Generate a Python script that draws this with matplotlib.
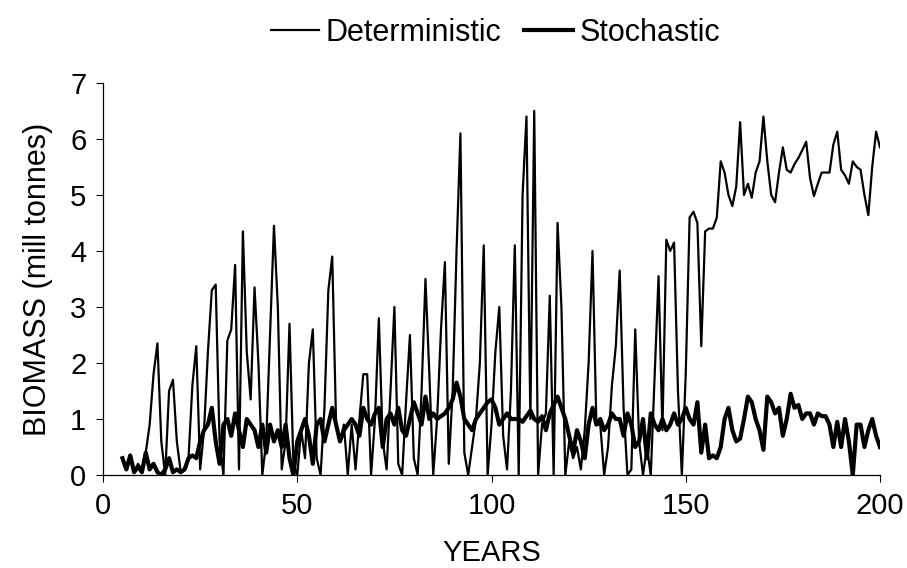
import matplotlib
matplotlib.use("Agg")
import matplotlib.pyplot as plt

plt.rcParams["font.family"] = ["Liberation Sans", "DejaVu Sans"]

years = list(range(5, 201))

# deterministic biomass (years 5..200)
deterministic = [
    0.3, 0.1, 0.3, 0.05, 0.2, 0.1, 0.4, 0.9, 1.8, 2.35,          # 5-14
    0.6, 0.0, 1.5, 1.7, 0.6, 0.05, 0.1, 0.3, 1.6, 2.3,           # 15-24
    0.1, 0.8, 2.2, 3.3, 3.4, 0.6, 0.0, 2.4, 2.6, 3.75,           # 25-34
    0.1, 4.35, 2.2, 1.35, 3.35, 2.0, 0.0, 0.6, 2.5, 4.45,        # 35-44
    3.0, 0.1, 0.6, 2.7, 0.2, 0.0, 0.8, 0.3, 2.0, 2.6,            # 45-54
    0.3, 0.0, 1.2, 3.3, 3.9, 0.9, 0.6, 0.9, 0.0, 0.9,            # 55-64
    0.1, 1.0, 1.8, 1.8, 0.0, 1.0, 2.8, 0.6, 0.1, 1.5,            # 65-74
    3.0, 0.2, 0.0, 1.3, 2.5, 0.3, 0.0, 1.5, 3.5, 1.8,            # 75-84
    0.0, 1.0, 2.6, 3.8, 0.2, 1.5, 4.0, 6.1, 0.4, 0.0,            # 85-94
    0.5, 1.0, 2.0, 4.1, 0.0, 0.9, 2.2, 3.0, 0.7, 0.1,            # 95-104
    1.5, 4.1, 0.0, 5.0, 6.4, 1.0, 6.5, 0.0, 0.9, 1.1,            # 105-114
    3.2, 0.0, 4.5, 3.0, 0.0, 0.6, 0.3, 0.5, 0.1, 0.8,            # 115-124
    2.0, 4.0, 0.9, 0.9, 0.0, 0.5, 1.6, 2.3, 3.65, 1.2,           # 125-134
    0.0, 0.1, 2.6, 0.6, 0.0, 0.5, 0.0, 1.8, 3.55, 0.8,           # 135-144
    4.2, 4.0, 4.15, 1.5, 0.0, 1.8, 4.6, 4.7, 4.5, 2.3,           # 145-154
    4.35, 4.4, 4.4, 4.6, 5.6, 5.4, 5.0, 4.8, 5.15, 6.3,          # 155-164
    5.0, 5.2, 4.95, 5.4, 5.6, 6.4, 5.6, 5.0, 4.87, 5.4,          # 165-174
    5.85, 5.45, 5.4, 5.55, 5.66, 5.8, 5.95, 5.3, 4.98, 5.2,      # 175-184
    5.4, 5.4, 5.4, 5.9, 6.13, 5.45, 5.35, 5.2, 5.6, 5.5,         # 185-194
    5.45, 5.0, 4.64, 5.5, 6.13, 5.85,                            # 195-200
]

# stochastic biomass (years 5..200)
stochastic = [
    0.3, 0.1, 0.35, 0.05, 0.15, 0.05, 0.4, 0.1, 0.2, 0.05,       # 5-14
    0.0, 0.1, 0.3, 0.05, 0.1, 0.05, 0.1, 0.3, 0.35, 0.3,         # 15-24
    0.6, 0.8, 0.9, 1.2, 0.6, 0.2, 0.9, 1.0, 0.7, 1.1,            # 25-34
    0.8, 0.5, 1.0, 0.9, 0.8, 0.5, 0.9, 0.4, 0.9, 0.6,            # 35-44
    0.8, 0.5, 0.9, 0.3, 0.0, 0.6, 0.8, 1.0, 0.7, 0.2,            # 45-54
    0.9, 1.0, 0.6, 0.9, 1.2, 0.9, 0.6, 0.8, 0.9, 1.0,            # 55-64
    0.9, 0.7, 1.2, 1.0, 0.9, 1.1, 1.2, 0.5, 1.0, 1.1,            # 65-74
    0.9, 1.2, 0.8, 0.7, 1.0, 1.3, 1.1, 0.9, 1.4, 1.0,            # 75-84
    1.1, 1.0, 1.05, 1.1, 1.2, 1.35, 1.65, 1.4, 1.0, 0.9,         # 85-94
    0.8, 1.0, 1.1, 1.2, 1.3, 1.35, 1.2, 0.9, 1.0, 1.1,           # 95-104
    1.0, 1.0, 1.0, 0.95, 1.05, 1.15, 1.0, 0.95, 1.05, 0.8,       # 105-114
    1.1, 1.25, 1.4, 1.2, 1.0, 0.7, 0.4, 0.8, 0.6, 0.3,           # 115-124
    0.9, 1.2, 0.9, 1.0, 0.8, 0.9, 1.1, 1.0, 1.0, 0.7,            # 125-134
    1.1, 0.9, 0.5, 0.6, 1.0, 0.3, 1.1, 0.9, 0.8, 1.0,            # 135-144
    0.8, 0.9, 1.1, 0.9, 1.0, 1.2, 1.0, 0.9, 1.3, 0.4,            # 145-154
    0.9, 0.3, 0.35, 0.3, 0.5, 1.0, 1.2, 0.8, 0.6, 0.65,          # 155-164
    1.0, 1.4, 1.3, 1.0, 0.8, 0.45, 1.4, 1.3, 1.1, 1.2,           # 165-174
    0.7, 1.0, 1.45, 1.2, 1.25, 1.0, 1.1, 1.1, 0.9, 1.1,          # 175-184
    1.05, 1.05, 0.9, 0.5, 0.95, 0.5, 1.0, 0.6, 0.0, 0.9,         # 185-194
    0.9, 0.5, 0.8, 1.0, 0.7, 0.5,                                # 195-200
]

x_ticks = [0, 50, 100, 150, 200]
y_ticks = [0, 1, 2, 3, 4, 5, 6, 7]

fig = plt.figure(figsize=(9.07, 5.68), dpi=100)
ax = fig.add_axes([0.1136, 0.1637, 0.8566, 0.6903])

ax.plot(years, deterministic, color="black", lw=1.6, label="Deterministic")
ax.plot(years, stochastic, color="black", lw=3.0, label="Stochastic")

ax.set_xlim(0, 200)
ax.set_ylim(0, 7)
ax.set_xticks(x_ticks)
ax.set_yticks(y_ticks)
ax.tick_params(labelsize=21, length=5, width=0.8, direction="out", pad=7)
for s in ("top", "right"):
    ax.spines[s].set_visible(False)
for s in ("left", "bottom"):
    ax.spines[s].set_linewidth(0.9)

ax.set_xlabel("YEARS", fontsize=21, labelpad=14)
ax.set_ylabel("BIOMASS (mill tonnes)", fontsize=22, labelpad=12)

fig.legend(loc="center", bbox_to_anchor=(0.546, 0.942), ncol=2, frameon=False,
           fontsize=22, handlelength=1.6, handletextpad=0.2, columnspacing=0.75)

plt.savefig("out.png", dpi=100)
